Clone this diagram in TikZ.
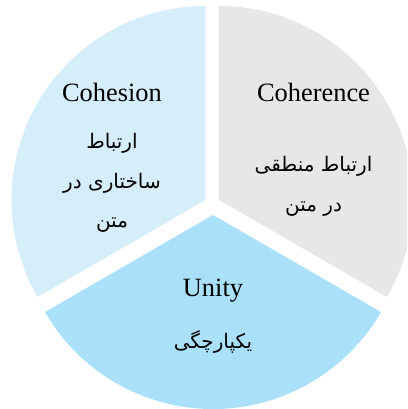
\documentclass[tikz,border=0pt]{standalone}
\usepackage{fontspec}
\setmainfont{Liberation Serif}
\newfontfamily\arabicfont[Script=Arabic]{DejaVu Sans}
\TeXXeTstate=1
\definecolor{cohesionblue}{RGB}{214,237,250}
\definecolor{unityblue}{RGB}{170,224,249}
\definecolor{coherencegray}{RGB}{230,231,232}
\begin{document}
\begin{tikzpicture}[x=1pt,y=1pt,
  title/.style={font=\fontsize{26.4}{30}\selectfont, anchor=base, inner sep=0pt},
  fa/.style={font=\arabicfont\fontsize{20}{39.5}\selectfont, align=center, inner sep=0pt}]
\path[use as bounding box] (0,0) rectangle (407,409);
\clip (0,0) rectangle (407,409);
\fill[cohesionblue] (205.5,209) -- ++(90:194pt) arc[start angle=90,end angle=210,radius=194pt] -- cycle;
\fill[coherencegray] (219,209) -- ++(-30:194pt) arc[start angle=-30,end angle=90,radius=194pt] -- cycle;
\fill[unityblue] (213,194) -- ++(210:194pt) arc[start angle=210,end angle=330,radius=194pt] -- cycle;
\node[title] (cohesion) at (112,307.3) {Cohesion};
\node[title] (coherence) at (313.5,307.3) {Coherence};
\node[title] (unity) at (213,112.3) {Unity};
\node[fa] (cohesionfa) at (112,226) {\beginR ارتباط\endR\\\beginR ساختاری در\endR\\\beginR متن\endR};
\node[fa] (coherencefa) at (313.5,222.5) {\beginR ارتباط منطقی\endR\\\beginR در متن\endR};
\node[fa] (unityfa) at (213,67) {\beginR یکپارچگی\endR};
\end{tikzpicture}
\end{document}
